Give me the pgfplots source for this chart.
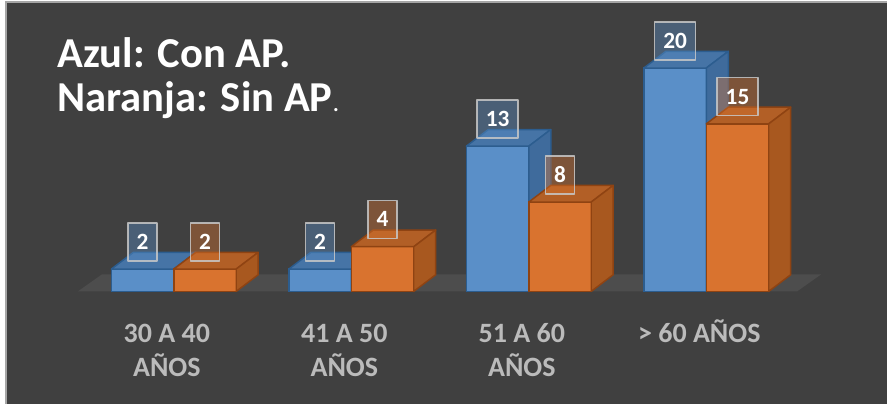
\documentclass[border=0pt]{standalone}
\usepackage{pgfplots}
\pgfplotsset{compat=1.18}
\usepackage{pgfplotstable}
\usepackage{fontspec}
\setmainfont{Carlito}

\definecolor{bg}{HTML}{404040}
\definecolor{floorc}{HTML}{4D4D4D}
\definecolor{framec}{HTML}{A6A6A6}
\definecolor{bFront}{HTML}{5A8FC8}
\definecolor{bTop}{HTML}{4674A6}
\definecolor{bSide}{HTML}{3F6B9C}
\definecolor{bEdge}{HTML}{2C5D8F}
\definecolor{oFront}{HTML}{D9732F}
\definecolor{oTop}{HTML}{B25F26}
\definecolor{oSide}{HTML}{A8581F}
\definecolor{oEdge}{HTML}{8F4312}
\definecolor{catc}{HTML}{BBBBBB}
\definecolor{boxedge}{HTML}{C8C8C8}

\pgfplotstableread{
x con sin
0 2 2
1 2 4
2 13 8
3 20 15
}\data

% 3D top and side faces as a plot mark (origin = bar group centre at the value top)
% \facesmark{left offset}{top colour}{side colour}{edge colour}
\newcommand\facesmark[4]{%
  \pgfmathsetlengthmacro{\hh}{\h*8.385pt}%
  \pgfmathsetlengthmacro{\xl}{#1}%
  \pgfmathsetlengthmacro{\xr}{#1+46.875pt}%
  \pgfmathsetlengthmacro{\xlb}{#1+16.5pt}%
  \pgfmathsetlengthmacro{\xrb}{#1+63.375pt}%
  \pgfmathsetlengthmacro{\yb}{12.5pt-\hh}%
  \pgfsetlinewidth{1.1pt}%
  \pgfsetroundjoin
  \pgfsetstrokecolor{#4}%
  \pgfsetfillcolor{#2}%
  \pgfpathmoveto{\pgfpoint{\xl}{0pt}}%
  \pgfpathlineto{\pgfpoint{\xr}{0pt}}%
  \pgfpathlineto{\pgfpoint{\xrb}{12.5pt}}%
  \pgfpathlineto{\pgfpoint{\xlb}{12.5pt}}%
  \pgfpathclose
  \pgfusepath{fill,stroke}%
  \pgfsetfillcolor{#3}%
  \pgfpathmoveto{\pgfpoint{\xr}{0pt}}%
  \pgfpathlineto{\pgfpoint{\xrb}{12.5pt}}%
  \pgfpathlineto{\pgfpoint{\xrb}{\yb}}%
  \pgfpathlineto{\pgfpoint{\xr}{-\hh}}%
  \pgfpathclose
  \pgfusepath{fill,stroke}%
}
\pgfdeclareplotmark{bface}{\facesmark{-46.875pt}{bTop}{bSide}{bEdge}}
\pgfdeclareplotmark{oface}{\facesmark{0pt}{oTop}{oSide}{oEdge}}

\pgfplotsset{
  lbl/.style={nodes near coords,
    nodes near coords style={anchor=south, yshift=5.6pt, text=white,
      font=\bfseries\fontsize{17.5}{20}\selectfont,
      draw=boxedge, draw opacity=0.85, line width=1.1pt,
      text height=11pt, text depth=0pt, inner ysep=8.75pt, inner xsep=6.5pt,
      fill=#1, fill opacity=0.4, text opacity=1}},
}
\tikzset{
  cat/.style={anchor=base, text=catc, font=\bfseries\fontsize{21}{25}\selectfont},
}

\begin{document}
\begin{tikzpicture}
\begin{axis}[
  x=133.27pt, y=8.385pt,
  xmin=-0.94542, xmax=4.0180, ymin=-10.045, ymax=25.912,
  axis line style={draw=none}, xtick=\empty, ytick=\empty,
  axis background/.style={fill=bg},
  clip=false, clip mode=individual,
  /pgf/number format/assume math mode=true,
]
% floor
\addplot[fill=floorc, draw=none] coordinates {(-0.5402,0) (3.5116,0) (3.6467,1.52) (-0.4051,1.52)} -- cycle;

% blue (Con AP)
\addplot[ybar, bar width=46.875pt, bar shift=-23.4375pt, fill=bFront, draw=bEdge, line width=1.1pt]
  table[x=x,y=con]{\data};
\addplot[only marks, mark=bface, point meta=y,
  visualization depends on={y \as \h},
  lbl=bFront, nodes near coords style={xshift=-23.4375pt}]
  table[x=x,y=con]{\data};

% orange (Sin AP)
\addplot[ybar, bar width=46.875pt, bar shift=23.4375pt, fill=oFront, draw=oEdge, line width=1.1pt]
  table[x=x,y=sin]{\data};
\addplot[only marks, mark=oface, point meta=y,
  visualization depends on={y \as \h},
  lbl=oFront, nodes near coords style={xshift=23.4375pt}]
  table[x=x,y=sin]{\data};

% category labels
\node[cat] at (axis cs:-0.0394,-4.562) {30 A 40};
\node[cat] at (axis cs:-0.0394,-7.603) {AÑOS};
\node[cat] at (axis cs:0.9606,-4.562) {41 A 50};
\node[cat] at (axis cs:0.9606,-7.603) {AÑOS};
\node[cat] at (axis cs:1.9606,-4.562) {51 A 60};
\node[cat] at (axis cs:1.9606,-7.603) {AÑOS};
\node[cat] at (axis cs:2.9606,-4.562) {> 60 AÑOS};

% legend text
\node[anchor=base west, inner sep=0pt, text=white, font=\bfseries\fontsize{32}{36}\selectfont]
  at (axis cs:-0.6584,20.009) {Azul: Con AP.};
\node[anchor=base west, inner sep=0pt, text=white, font=\bfseries\fontsize{32}{36}\selectfont]
  at (axis cs:-0.6584,16.073) {Naranja: Sin AP{\mdseries\fontsize{20}{24}\selectfont .}};

% frame lines
\draw[framec, line width=1.5pt] (rel axis cs:0,0) -- (rel axis cs:0,1) -- (rel axis cs:1,1);
\end{axis}
\path (current axis.north west) ++(-4.5pt,1.5pt);
\end{tikzpicture}
\end{document}
